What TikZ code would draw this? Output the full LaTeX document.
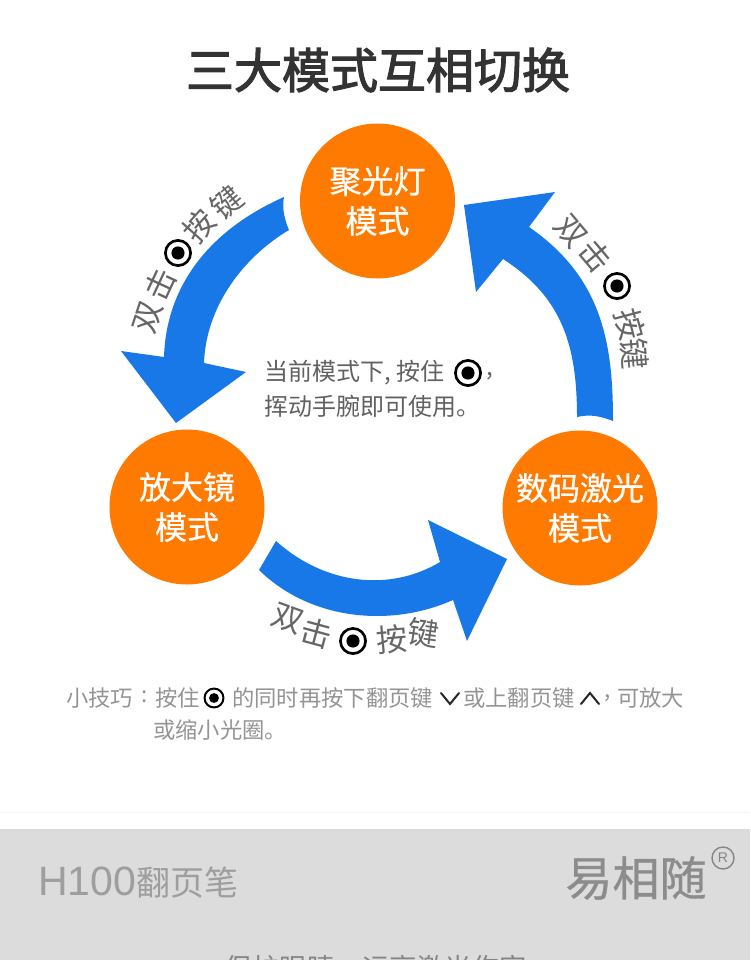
\documentclass[tikz,border=0pt]{standalone}
\usepackage{fontspec}
\setmainfont{Noto Sans CJK SC}
\newfontfamily\latinfont{Liberation Sans}
\newfontfamily\titlefont[FakeBold=2.4]{Noto Sans CJK SC}
\newfontfamily\midfont[FakeBold=0.7]{Noto Sans CJK SC}
\definecolor{modeorange}{HTML}{FF7A00}
\definecolor{flowblue}{HTML}{1878E8}
\definecolor{bandgray}{HTML}{DCDCDC}
\definecolor{titledark}{HTML}{333333}
\newcommand{\fs}[1]{\fontsize{#1}{#1}\selectfont}
\tikzset{
  modecircle/.style={circle,fill=modeorange,minimum size=155pt,inner sep=0pt,text=white,align=center,font=\midfont\fontsize{32}{40}\selectfont},
  glabel/.style={inner sep=0pt,text=black!60,font=\fs{31}},
  bodytext/.style={inner sep=0pt,anchor=west,text=black!62,font=\fs{24}},
  tiptext/.style={inner sep=0pt,anchor=west,text=black!42,font=\fs{22.3}},
  pics/targeticon/.style={code={
    \fill[white] (0,0) circle[radius=#1pt];
    \draw[black,line width=.19*#1pt] (0,0) circle[radius=.9*#1pt];
    \fill[black] (0,0) circle[radius=.47*#1pt];
  }},
  chevron/.style={draw=black!85,line width=2pt,line cap=round,line join=miter}
}
\begin{document}
\begin{tikzpicture}[x=1pt,y=-1pt]
\useasboundingbox (0,0) rectangle (750,960);
\clip (0,0) rectangle (750,960);
\fill[white] (0,0) rectangle (750,960);

% footer band
\fill[black!4] (0,812) rectangle (750,813);
\fill[bandgray] (0,830) rectangle (750,960);
\fill[black!14] (0,829) rectangle (750,830.5);

% title
\node[inner sep=0pt,text=titledark,font=\titlefont\fs{48}] (title) at (378,70) {三大模式互相切换};

% mode circles
\node[modecircle] (spot) at (377.5,201) {聚光灯\\模式};
\node[modecircle] (lens) at (187,507) {放大镜\\模式};
\node[modecircle] (laser) at (580,508) {数码激光\\模式};

% block arrows
\fill[flowblue] (284,197) .. controls (205,232) and (166,290) .. (164,357)
  -- (121,351) -- (176,423) -- (246,372) -- (204,363)
  .. controls (206,305) and (245,256) .. (289,230)
  .. controls (284,218) and (282,208) .. cycle;
\fill[flowblue] (577,417) .. controls (577,345) and (562,297) .. (503,259)
  -- (476,292) -- (464,205) -- (555,192) -- (529,227)
  .. controls (603,278) and (613,345) .. (613,421)
  .. controls (600,416) and (590,414) .. cycle;
\fill[flowblue] (276,541) .. controls (325,585) and (390,592) .. (440,562)
  -- (428,520) -- (507,559) -- (467,641) -- (453,600)
  .. controls (390,628) and (310,620) .. (259,570) -- cycle;

% label: spot to lens
\node[glabel,rotate=72] (a1) at (148,317) {双};
\node[glabel,rotate=65] (a2) at (160,284) {击};
\pic at (178,253) {targeticon=14};
\node[glabel,rotate=48] (a3) at (199,226) {按};
\node[glabel,rotate=40] (a4) at (227,203) {键};

% label: laser to spot
\node[glabel,rotate=-50] (b1) at (571,232) {双};
\node[glabel,rotate=-50] (b2) at (595,256) {击};
\pic at (617,286) {targeticon=14};
\node[glabel,rotate=-75] (b3) at (630,324) {按};
\node[glabel,rotate=-85] (b4) at (635,354) {键};

% label: lens to laser
\node[glabel,rotate=-20] (c1) at (288,619) {双};
\node[glabel,rotate=-15] (c2) at (317,633) {击};
\pic at (353,641) {targeticon=14};
\node[glabel,rotate=5] (c3) at (392,639) {按};
\node[glabel,rotate=-8] (c4) at (423,633) {键};

% centre note
\node[bodytext] (n1) at (264,373) {当前模式下, 按住};
\pic at (468,373) {targeticon=14};
\node[bodytext] (n1b) at (486,376) {,};
\node[bodytext] (n2) at (264,406) {挥动手腕即可使用。};

% tip
\node[tiptext] (t1) at (66,698) {小技巧};
\node[tiptext] (t1c) at (141,697) {:};
\node[tiptext] (t1b) at (155,698) {按住};
\pic at (214,698) {targeticon=10.5};
\node[tiptext] (t2) at (232,698) {的同时再按下翻页键};
\draw[chevron] (441,693) -- (450,704) -- (459,693);
\node[tiptext] (t3) at (463,698) {或上翻页键};
\draw[chevron] (581,704) -- (590,693) -- (599,704);
\node[tiptext] (t4) at (604,698) {,};
\node[tiptext] (t4b) at (617,698) {可放大};
\node[tiptext] (t5) at (153,730) {或缩小光圈。};

% footer
\node[inner sep=0pt,anchor=west,text=black!38,font=\fs{34}] (prod) at (38,883) {{\latinfont\fs{41}H100}翻页笔};
\node[inner sep=0pt,text=black!45,font=\midfont\fs{47}] (brand) at (636,878) {易相随};
\node[circle,draw=black!48,line width=1.4pt,minimum size=22pt,inner sep=0pt,text=black!48,font=\latinfont\fs{14}] (reg) at (723,858) {R};
\node[inner sep=0pt,text=black!48,font=\fs{27.5}] (foot) at (376,968) {保护眼睛，远离激光伤害};
\end{tikzpicture}
\end{document}
